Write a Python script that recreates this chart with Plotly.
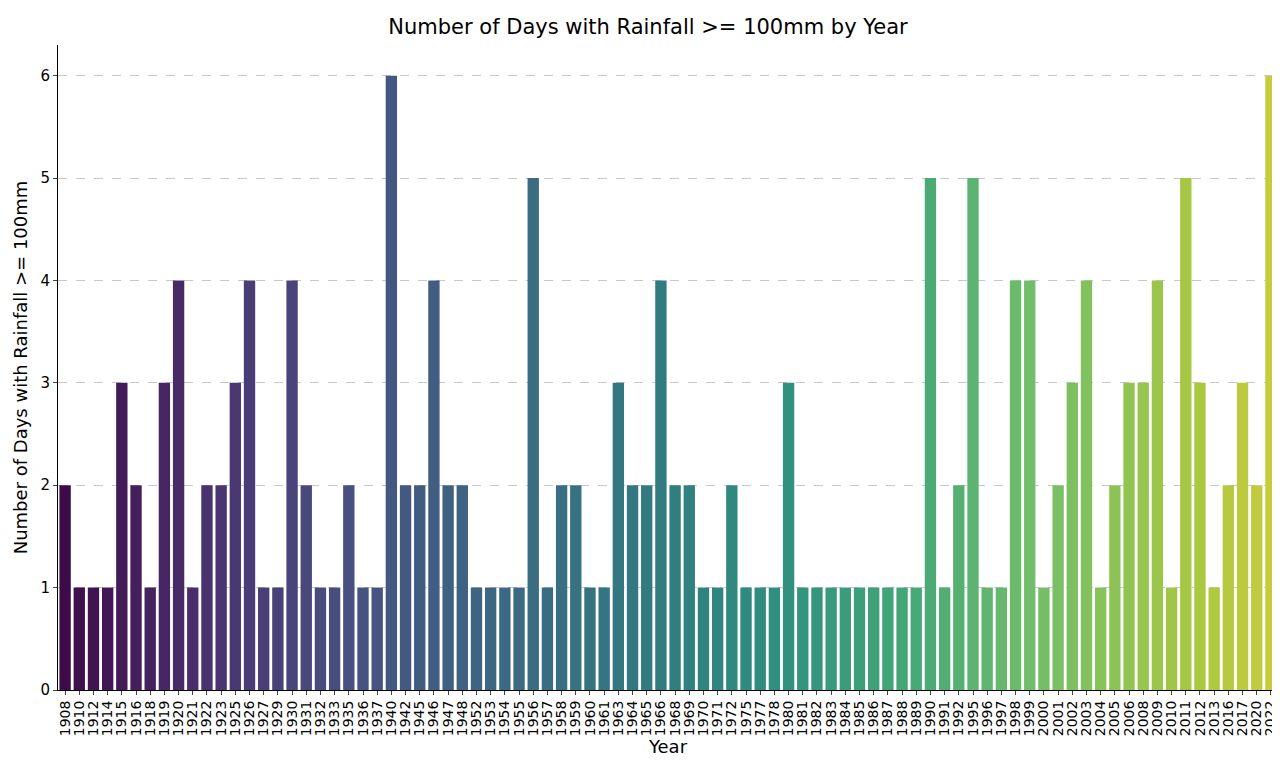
import plotly.graph_objects as go
import plotly.colors as pc
import colorsys

years = [1908,1910,1912,1914,1915,1916,1918,1919,1920,1921,1922,1923,1925,1926,1927,1929,1930,1931,1932,1933,1935,1936,1937,1940,1942,1945,1946,1947,1948,1952,1953,1954,1955,1956,1957,1958,1959,1960,1961,1963,1964,1965,1966,1968,1969,1970,1971,1972,1975,1977,1978,1980,1981,1982,1983,1984,1985,1986,1987,1988,1989,1990,1991,1992,1995,1996,1997,1998,1999,2000,2001,2002,2003,2004,2005,2006,2008,2009,2010,2011,2012,2013,2016,2017,2020,2022]
days = [2,1,1,1,3,2,1,3,4,1,2,2,3,4,1,1,4,2,1,1,2,1,1,6,2,2,4,2,2,1,1,1,1,5,1,2,2,1,1,3,2,2,4,2,2,1,1,2,1,1,1,3,1,1,1,1,1,1,1,1,1,5,1,2,5,1,1,4,4,1,2,3,4,1,2,3,3,4,1,5,3,1,2,3,2,6]

labels = [str(y) for y in years]
n = len(years)
raw = pc.sample_colorscale("Viridis", [0.0 + 0.95 * i / (n - 1) for i in range(n)], colortype="tuple")
colors = []
for r, g, b in raw:
    h, l, s = colorsys.rgb_to_hls(r, g, b)
    r2, g2, b2 = colorsys.hls_to_rgb(h, l, s * 0.75)
    colors.append(f"rgb({r2*255:.0f},{g2*255:.0f},{b2*255:.0f})")

fig = go.Figure(go.Bar(x=labels, y=days, marker=dict(color=colors, line=dict(width=0)), width=0.8))
fig.update_layout(
    width=1280, height=765, plot_bgcolor="white", paper_bgcolor="white",
    font=dict(family="DejaVu Sans", color="black", size=15),
    title=dict(text="Number of Days with Rainfall >= 100mm by Year", x=0.5, xanchor="center", y=0.975, yanchor="middle", font=dict(size=21)),
    margin=dict(l=50, r=10, t=37, b=83, autoexpand=False),
    showlegend=False, bargap=0.2,
)
fig.update_xaxes(type="category", title=dict(text="Year", standoff=2), tickangle=-90, tickfont=dict(size=14),
                 tickmode="array", tickvals=labels, ticktext=labels,
                 showline=True, linecolor="black", ticks="outside", ticklen=4, showgrid=False)
fig.update_yaxes(title=dict(text="Number of Days with Rainfall >= 100mm", standoff=8), range=[0, 6.3], dtick=1,
                 showline=True, linecolor="black", ticks="outside", ticklen=4, zeroline=False,
                 showgrid=True, gridcolor="#c8c8c8", griddash="dash", gridwidth=1)
fig.write_html("out.html")
